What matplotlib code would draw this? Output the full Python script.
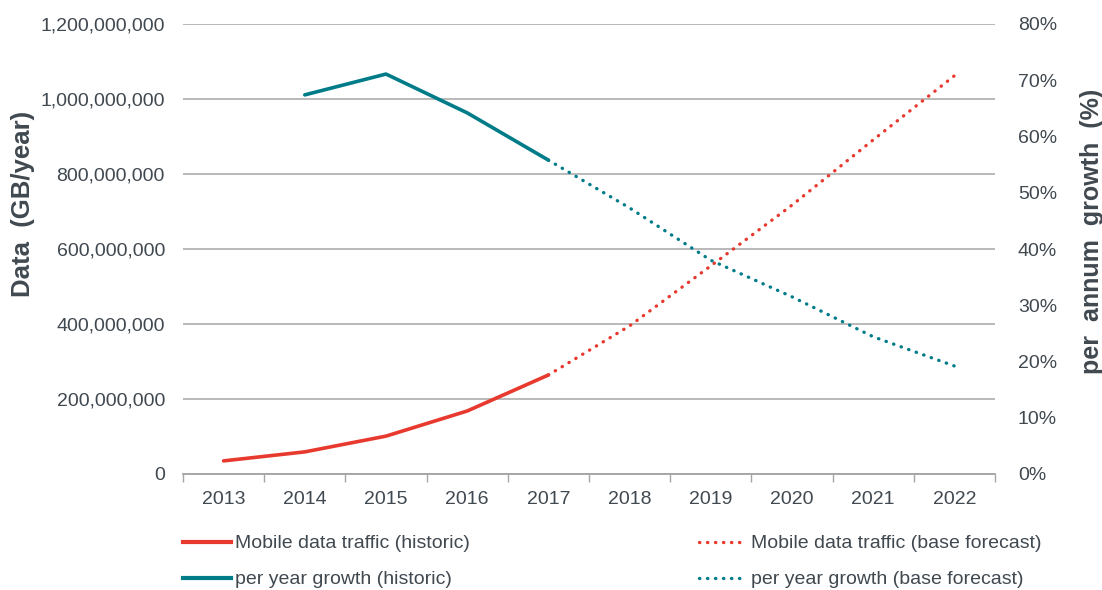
import numpy as np
import matplotlib.pyplot as plt
from matplotlib.ticker import FuncFormatter, PercentFormatter
from matplotlib.lines import Line2D

# data
years = ["2013", "2014", "2015", "2016", "2017", "2018", "2019", "2020", "2021", "2022"]
traffic_hist = [35e6, 59e6, 101e6, 168e6, 264e6]                      # 2013-2017
traffic_fc = [264e6, 395e6, 555e6, 717e6, 891e6, 1062e6]              # 2017-2022
growth_hist = [0.674, 0.711, 0.642, 0.558]                           # 2014-2017
growth_fc = [0.558, 0.473, 0.380, 0.315, 0.244, 0.192]               # 2017-2022

RED = "#E8392E"
TEAL = "#007C89"
TXT = "#404850"
GRID = "#A6A6A6"

plt.rcParams["font.family"] = ["Liberation Sans", "DejaVu Sans"]

fig = plt.figure(figsize=(11.02, 5.90), dpi=100)
ax = fig.add_axes([183 / 1102, 1 - 474 / 590, (995 - 183) / 1102, 450 / 590])
ax2 = ax.twinx()

x = np.arange(len(years))
dots = (0, (0.1, 2.3))
ax.plot(x[:5], traffic_hist, color=RED, lw=2.6, solid_capstyle="round")
ax.plot(x[4:], traffic_fc, color=RED, lw=2.4, ls=dots, dash_capstyle="round")
ax2.plot(x[1:5], growth_hist, color=TEAL, lw=2.6, solid_capstyle="round")
ax2.plot(x[4:], growth_fc, color=TEAL, lw=2.4, ls=dots, dash_capstyle="round")

ax.set_xlim(-0.5, len(years) - 0.5)
ax.set_ylim(0, 1.2e9)
ax.set_yticks(np.arange(0, 1.2e9 + 1, 2e8))
ax.yaxis.set_major_formatter(FuncFormatter(lambda v, p: f"{int(v):,}"))
ax2.set_ylim(0, 0.8)
ax2.set_yticks(np.arange(0, 0.81, 0.1))
ax2.yaxis.set_major_formatter(PercentFormatter(1.0, decimals=0))

# category axis: labels at centres, ticks on boundaries
ax.set_xticks(x)
ax.set_xticklabels(years)
ax.set_xticks(np.arange(-0.5, len(years), 1), minor=True)
ax.tick_params(axis="x", which="major", length=0, pad=12, labelsize=14, labelcolor=TXT)
ax.tick_params(axis="x", which="minor", length=6, width=1, color=GRID)
ax.tick_params(axis="y", length=0, pad=13, labelsize=14, labelcolor=TXT)
ax2.tick_params(axis="y", length=0, pad=16.5, labelsize=14, labelcolor=TXT)

ax.grid(axis="y", color=GRID, lw=1.1)
ax.set_axisbelow(True)
for a in (ax, ax2):
    for s in ("top", "left", "right"):
        a.spines[s].set_visible(False)
    a.spines["bottom"].set_color(GRID)
    a.spines["bottom"].set_linewidth(1.1)

fig.text(23 / 1102, 1 - 204 / 590, "Data  (GB/year)", rotation=90, ha="center", va="center",
         fontsize=18.5, fontweight="bold", color=TXT)
fig.text(1092 / 1102, 1 - 231 / 590, "per  annum  growth  (%)", rotation=90, ha="center", va="center",
         fontsize=18, fontweight="bold", color=TXT)

h_tr = Line2D([], [], color=RED, lw=3)
h_gr = Line2D([], [], color=TEAL, lw=3)
h_trf = Line2D([], [], color=RED, lw=2.4, ls=dots, dash_capstyle="round")
h_grf = Line2D([], [], color=TEAL, lw=2.4, ls=dots, dash_capstyle="round")

kw = dict(frameon=False, fontsize=14, handlelength=2.5, handletextpad=0.2,
          labelspacing=0.95, borderaxespad=0, labelcolor=TXT)
fig.legend([h_tr, h_gr], ["Mobile data traffic (historic)", "per year growth (historic)"],
           loc="upper left", bbox_to_anchor=(175 / 1102, 1 - 527 / 590), **kw)
fig.legend([h_trf, h_grf], ["Mobile data traffic (base forecast)", "per year growth (base forecast)"],
           loc="upper left", bbox_to_anchor=(691 / 1102, 1 - 527 / 590), **kw)

fig.savefig("out.png", dpi=100)
